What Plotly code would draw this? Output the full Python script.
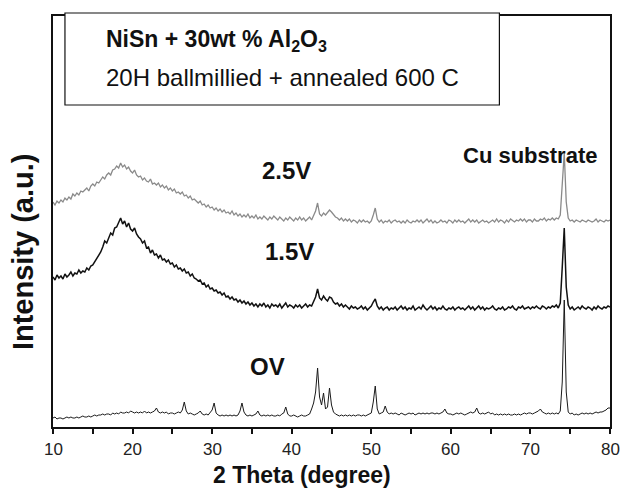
import numpy as np
import plotly.graph_objects as go

# 2-theta scan grid (degrees), 0.25 deg step
two_theta = np.round(np.arange(10.0, 80.001, 0.25), 2)

# Intensities (a.u., offset stacked), 4 points per degree
int_0V = [
    9, 10, 8, 9,  9, 8, 9, 10,  9, 10, 9, 9,  10, 9, 10, 11,  10, 10, 11, 10,
    11, 12, 11, 12,  12, 13, 12, 13,  13, 12, 14, 13,  14, 13, 15, 14,  14, 15, 14, 16,
    15, 14, 15, 14,  15, 14, 16, 14,  15, 14, 15, 16,  19, 15, 14, 15,  14, 15, 13, 14,
    14, 13, 14, 15,  14, 17, 25, 16,  13, 14, 13, 12,  13, 14, 16, 13,  12, 13, 12, 14,
    17, 24, 14, 12,  11, 12, 11, 12,  11, 12, 11, 12,  11, 12, 16, 24,  15, 12, 11, 12,
    11, 12, 13, 16,  12, 11, 12, 11,  12, 11, 12, 11,  11, 12, 11, 13,  14, 20, 13, 11,
    11, 12, 11, 10,  11, 12, 11, 11,  12, 13, 18, 24,  35, 59, 30, 22,  34, 18, 20, 39,
    22, 15, 13, 12,  11, 12, 11, 12,  11, 12, 11, 12,  11, 12, 12, 11,  12, 11, 12, 13,
    14, 25, 41, 18,  13, 14, 15, 21,  15, 13, 14, 13,  14, 13, 12, 14,  13, 12, 13, 14,
    13, 14, 12, 13,  14, 13, 14, 13,  14, 13, 14, 14,  13, 14, 13, 14,  15, 18, 14, 13,
    13, 12, 13, 14,  13, 14, 13, 12,  13, 14, 15, 14,  15, 19, 14, 13,  14, 13, 14, 15,
    13, 14, 12, 13,  12, 13, 12, 13,  12, 13, 12, 12,  13, 12, 13, 12,  13, 14, 13, 14,
    14, 13, 14, 15,  16, 18, 15, 14,  13, 14, 13, 14,  13, 14, 13, 16,  45, 127, 35, 15,
    13, 14, 12, 13,  12, 13, 14, 13,  14, 13, 14, 13,  14, 15, 14, 15,  15, 16, 17, 19,
    19,
]

int_15V = [
    150, 147, 152, 149,  151, 148, 153, 150,  152, 155, 151, 154,  153, 157, 154, 156,  155, 159, 157, 161,
    162, 165, 168, 172,  175, 180, 186, 184,  190, 194, 192, 199,  200, 204, 209, 203,  206, 200, 204, 198,
    196, 199, 193, 190,  188, 184, 186, 179,  180, 174, 177, 172,  173, 169, 172, 167,  168, 165, 167, 163,
    164, 160, 162, 158,  159, 156, 158, 154,  155, 151, 153, 149,  148, 146, 147, 143,  144, 140, 142, 138,
    139, 136, 137, 134,  135, 132, 134, 130,  131, 128, 130, 127,  128, 125, 127, 124,  126, 123, 125, 122,
    124, 121, 123, 120,  123, 121, 124, 120,  122, 119, 123, 121,  122, 120, 123, 119,  121, 124, 120, 122,
    121, 119, 122, 120,  122, 119, 121, 123,  120, 122, 121, 126,  130, 138, 129, 127,  131, 128, 126, 130,
    129, 125, 123, 124,  121, 123, 120, 122,  120, 118, 121, 119,  120, 118, 119, 121,  118, 120, 117, 119,
    121, 125, 128, 121,  118, 120, 117, 119,  120, 117, 119, 118,  120, 117, 119, 121,  118, 120, 117, 119,
    118, 121, 117, 119,  120, 118, 122, 119,  117, 119, 121, 118,  120, 117, 119, 118,  121, 118, 117, 119,
    118, 120, 117, 119,  120, 118, 119, 117,  119, 121, 118, 120,  117, 119, 121, 118,  120, 117, 119, 118,
    119, 121, 118, 117,  119, 118, 120, 117,  118, 120, 119, 121,  118, 117, 120, 119,  121, 118, 119, 120,
    118, 120, 119, 121,  119, 118, 121, 120,  118, 120, 119, 121,  120, 122, 119, 124,  160, 199, 140, 122,
    118, 120, 117, 119,  120, 118, 121, 119,  118, 120, 119, 117,  120, 118, 121, 119,  118, 120, 119, 121,
    120,
]

int_25V = [
    225, 222, 226, 224,  227, 225, 229, 227,  230, 228, 233, 231,  234, 232, 236, 235,  237, 239, 236, 241,
    243, 241, 245, 244,  247, 250, 248, 252,  254, 252, 257, 258,  261, 259, 264, 260,  262, 258, 260, 256,
    254, 257, 252, 250,  251, 247, 249, 246,  245, 248, 243, 244,  242, 244, 240, 242,  239, 241, 237, 239,
    236, 238, 234, 235,  233, 235, 231, 232,  229, 231, 227, 228,  226, 224, 226, 222,  223, 220, 222, 219,
    220, 217, 219, 216,  218, 215, 217, 214,  215, 213, 216, 212,  214, 211, 213, 210,  212, 210, 213, 209,
    211, 209, 212, 208,  210, 208, 211, 209,  207, 210, 208, 211,  209, 207, 210, 208,  206, 209, 207, 210,
    208, 206, 209, 207,  210, 207, 209, 206,  208, 210, 207, 212,  216, 224, 213, 211,  214, 212, 215, 217,
    215, 212, 210, 209,  207, 209, 206, 208,  206, 208, 205, 207,  206, 204, 207, 205,  207, 205, 206, 204,
    206, 212, 219, 208,  205, 207, 204, 206,  205, 207, 204, 206,  207, 205, 206, 204,  206, 204, 207, 205,
    204, 206, 205, 207,  205, 207, 204, 206,  208, 205, 207, 204,  206, 204, 205, 207,  205, 206, 204, 207,
    206, 204, 207, 205,  207, 205, 206, 204,  206, 208, 205, 207,  205, 207, 204, 206,  207, 205, 206, 204,
    206, 207, 205, 208,  205, 207, 206, 204,  207, 205, 208, 206,  205, 207, 206, 208,  206, 208, 205, 207,
    207, 205, 208, 206,  206, 208, 207, 209,  206, 208, 207, 209,  207, 209, 208, 212,  240, 274, 225, 209,
    206, 207, 205, 207,  206, 205, 207, 206,  205, 207, 206, 205,  206, 208, 205, 207,  206, 205, 207, 206,
    207,
]

x_ticks = [10, 20, 30, 40, 50, 60, 70, 80]

FONT = "Liberation Sans, Arial, sans-serif"

fig = go.Figure()
fig.add_trace(go.Scatter(x=two_theta, y=int_0V, mode="lines",
                         line=dict(color="#1a1a1a", width=1), name="0V"))
fig.add_trace(go.Scatter(x=two_theta, y=int_15V, mode="lines",
                         line=dict(color="#111111", width=1.5), name="1.5V"))
fig.add_trace(go.Scatter(x=two_theta, y=int_25V, mode="lines",
                         line=dict(color="#8a8a8a", width=1.3), name="2.5V"))

L, R, T, B = 53, 12, 16, 63
PW, PH = 624 - L - R, 490 - T - B


def px(xp):
    return (xp - L) / PW


def py(yp):
    return (490 - B - yp) / PH


annots = [
    dict(text="<b>2.5V</b>", x=px(287), y=py(170), size=24),
    dict(text="<b>1.5V</b>", x=px(290), y=py(252), size=24),
    dict(text="<b>OV</b>", x=px(268), y=py(366), size=24),
    dict(text="<b>Cu substrate</b>", x=px(532), y=py(155), size=22),
    dict(text="<b>2 Theta (degree)</b>", x=px(303), y=py(475), size=23),
]
for a in annots:
    fig.add_annotation(text=a["text"], x=a["x"], y=a["y"], xref="paper", yref="paper",
                       xanchor="center", yanchor="middle", showarrow=False, borderpad=0,
                       font=dict(family=FONT, size=a["size"], color="#111111"))

# x tick labels placed right under the axis
for v in x_ticks:
    fig.add_annotation(text=str(v), x=v, y=py(449), xref="x", yref="paper",
                       xanchor="center", yanchor="middle", showarrow=False, borderpad=0,
                       font=dict(family=FONT, size=17, color="#222222"))

fig.add_annotation(text="<b>Intensity (a.u.)</b>", x=px(23), y=py(252), xref="paper", yref="paper",
                   xanchor="center", yanchor="middle", showarrow=False, textangle=-90,
                   font=dict(family=FONT, size=29, color="#111111"))

# info box
fig.add_shape(type="rect", xref="paper", yref="paper",
              x0=px(65), x1=px(501), y0=py(105), y1=py(13),
              fillcolor="white", line=dict(color="#111111", width=1.2), layer="above")
fig.add_annotation(text="<b>NiSn + 30wt % Al<sub>2</sub>O<sub>3</sub></b>", x=px(104), y=py(40),
                   xref="paper", yref="paper", xanchor="left", yanchor="middle", showarrow=False,
                   font=dict(family=FONT, size=23, color="#111111"))
fig.add_annotation(text="20H ballmillied + annealed 600 C", x=px(104), y=py(77),
                   xref="paper", yref="paper", xanchor="left", yanchor="middle", showarrow=False,
                   font=dict(family=FONT, size=24, color="#111111"))

fig.update_layout(
    width=624, height=490,
    margin=dict(l=L, r=R, t=T, b=B),
    paper_bgcolor="white", plot_bgcolor="white",
    showlegend=False,
    xaxis=dict(range=[10, 80], tickvals=x_ticks, showticklabels=False,
               ticks="outside", ticklen=5, tickwidth=1.5, tickcolor="#111111",
               minor=dict(dtick=5, ticks="outside", ticklen=5, tickwidth=1.5, tickcolor="#111111"),
               showline=True, mirror=True, linecolor="#111111", linewidth=1.5,
               showgrid=False, zeroline=False),
    yaxis=dict(range=[0, 411], showticklabels=False, ticks="", showgrid=False, zeroline=False,
               showline=True, mirror=True, linecolor="#111111", linewidth=1.5),
)

fig.write_html("out.html", config={"displayModeBar": False},
               post_script="document.body.style.margin='0px';")
